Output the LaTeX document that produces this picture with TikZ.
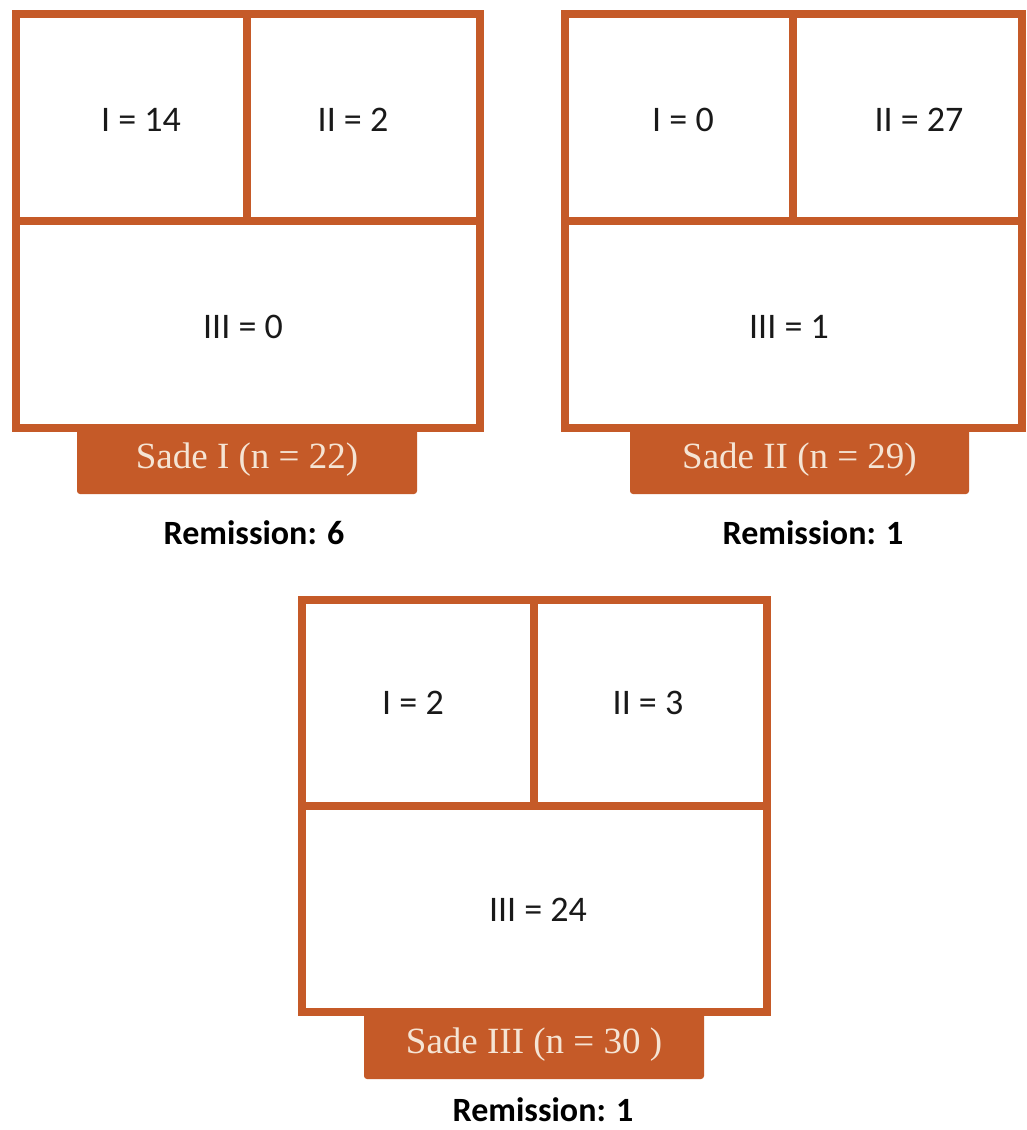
\documentclass[tikz,border=0pt]{standalone}
\usepackage{fontspec}
\setmainfont{Carlito}
\newfontfamily\tabfont{Liberation Serif}
\definecolor{frameorange}{RGB}{197,90,40}
\definecolor{tabtext}{RGB}{245,228,212}
\begin{document}
\begin{tikzpicture}[x=1pt,y=-1pt,
  cell/.style={draw=frameorange, line width=8pt, rectangle, inner sep=0pt},
  val/.style={font=\fontsize{36}{40}\selectfont, text=black!90, inner sep=0pt},
  tabbox/.style={fill=frameorange, rounded corners=3pt, inner sep=0pt, minimum height=68pt,
     text=tabtext, font=\tabfont\fontsize{37}{40}\selectfont},
  remis/.style={font=\bfseries\fontsize{34}{38}\selectfont, text=black, inner sep=0pt}]
\useasboundingbox (0,0) rectangle (1026,1130);
\fill[white] (0,0) rectangle (1026,1130);
% tabs (under frames)
\node[tabbox, minimum width=340pt] (t1) at (247,460) {Sade I (n = 22)};
\node[tabbox, minimum width=339pt] (t2) at (799.5,460) {Sade II (n = 29)};
\node[tabbox, minimum width=340pt] (t3) at (534,1045) {Sade III (n = 30 )};
% frame 1
\node[cell, minimum width=231pt, minimum height=207pt] (a1) at (131.5,117.5) {};
\node[cell, minimum width=233pt, minimum height=207pt] (a2) at (363.5,117.5) {};
\node[cell, minimum width=464pt, minimum height=207pt] (a3) at (248,324.5) {};
% frame 2
\node[cell, minimum width=228pt, minimum height=207pt] (b1) at (679,117.5) {};
\node[cell, minimum width=229pt, minimum height=207pt] (b2) at (907.5,117.5) {};
\node[cell, minimum width=457pt, minimum height=207pt] (b3) at (793.5,324.5) {};
% frame 3
\node[cell, minimum width=232pt, minimum height=206pt] (c1) at (418,703) {};
\node[cell, minimum width=233pt, minimum height=206pt] (c2) at (650.5,703) {};
\node[cell, minimum width=465pt, minimum height=206pt] (c3) at (534.5,909) {};
% values
\node[val] (va1) at (141,120) {I = 14};
\node[val] (va2) at (353,120) {II = 2};
\node[val] (va3) at (243,327) {III = 0};
\node[val] (vb1) at (683,120) {I = 0};
\node[val] (vb2) at (919,120) {II = 27};
\node[val] (vb3) at (789,327) {III = 1};
\node[val] (vc1) at (413,703) {I = 2};
\node[val] (vc2) at (648,703) {II = 3};
\node[val] (vc3) at (538,910) {III = 24};
% remission
\node[remis] (r1) at (254,533) {Remission: 6};
\node[remis] (r2) at (813,533) {Remission: 1};
\node[remis] (r3) at (543,1110) {Remission: 1};
\end{tikzpicture}
\end{document}
